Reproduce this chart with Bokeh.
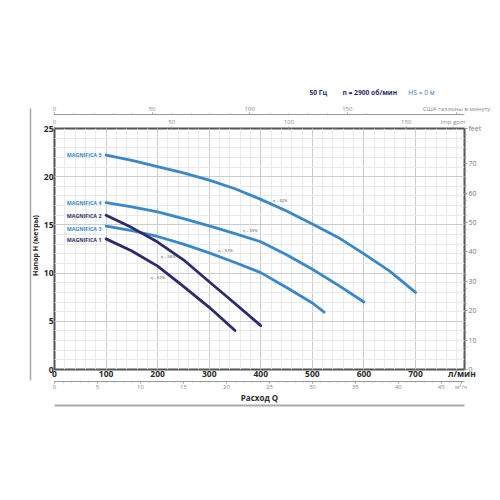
import math
from bokeh.plotting import figure
from bokeh.layouts import column, row
from bokeh.models import (Range1d, LinearAxis, SingleIntervalTicker, FixedTicker,
                          ColumnDataSource)
from bokeh.core.properties import value
from bokeh.embed import file_html
from bokeh.resources import INLINE

FONT = "Open Sans"
BLUE = "#3a87c9"
NAVY = "#2d2b6c"

# ---- data (flow in l/min, head in m) ----
q_m5 = [100, 150, 200, 250, 300, 350, 400, 450, 500, 550, 600, 650, 700]
h_m5 = [22.25, 21.7, 21.05, 20.4, 19.65, 18.75, 17.65, 16.45, 15.1, 13.7, 12.0, 10.2, 8.0]
q_m4 = [100, 150, 200, 250, 300, 350, 400, 450, 500, 550, 600]
h_m4 = [17.3, 16.88, 16.35, 15.65, 14.9, 14.1, 13.25, 11.9, 10.4, 8.75, 7.0]
q_m3 = [100, 150, 200, 250, 300, 350, 400, 450, 500, 523]
h_m3 = [14.88, 14.4, 13.8, 13.0, 12.1, 11.1, 10.05, 8.5, 6.9, 5.95]
q_m2 = [100, 150, 200, 250, 300, 350, 400]
h_m2 = [16.0, 14.72, 13.22, 11.38, 9.1, 6.85, 4.55]
q_m1 = [100, 150, 200, 250, 300, 350]
h_m1 = [13.55, 12.3, 10.72, 8.62, 6.45, 4.05]

model_names = ["MAGNIFICA 5", "MAGNIFICA 4", "MAGNIFICA 2", "MAGNIFICA 3", "MAGNIFICA 1"]
model_label_y = [22.2, 17.3, 15.9, 14.55, 13.45]
model_colors = [BLUE, BLUE, NAVY, BLUE, NAVY]

eff_text = ["η = 62%", "η = 59%", "η = 57%", "η = 58%", "η = 57%"]
eff_x = [423, 365, 317, 206, 186]
eff_y = [17.5, 14.4, 12.37, 11.68, 9.5]

header_text = ["50 Гц", "n = 2900 об/мин", "HS = 0 м"]
header_colors = [NAVY, NAVY, "#4a74b4"]
header_styles = ["bold", "bold", "normal"]
y_title = "Напор H (метры)"

lmin_ticks = [0, 100, 200, 300, 400, 500, 600, 700, 790]
lmin_labels = {790: "л/мин"}
m3h_ticks = [0, 5, 10, 15, 20, 25, 30, 35, 40, 45, 47.3]
m3h_minor = list(range(0, 47))
m3h_labels = {47.3: "м³/ч"}
us_ticks = [0, 50, 100, 150, 206]
us_labels = {206: "США галлоны в минуту"}
imp_ticks = [0, 50, 100, 150, 170]
imp_labels = {170: "Imp gpm"}
gpm_minor = list(range(0, 161, 10))
feet_ticks = [0, 10, 20, 30, 40, 50, 60, 70, 82]
feet_labels = {82: "feet"}
feet_minor = [v * 2.5 for v in range(0, 33)]

X_MAX = 795
Y_MAX = 25
HEAD_H = 100
STRIP_W = 40
W = 500 - STRIP_W

def blank(fig):
    fig.xaxis.visible = False
    fig.yaxis.visible = False
    fig.grid.visible = False
    fig.outline_line_color = None

# ---- left strip: decorative rule + y title (pixel coordinates, y up) ----
strip = figure(width=STRIP_W, height=500, x_range=Range1d(0, STRIP_W), y_range=Range1d(0, 500),
               output_backend="svg", toolbar_location=None, min_border=0)
blank(strip)
strip.segment(x0=[30], y0=[500 - 108], x1=[30], y1=[500 - 380],
              line_color="#aaaaaa", line_width=1.5)
strip.text(x=[35.3], y=[500 - 245], text=[y_title], angle=math.pi / 2,
           text_font=value(FONT), text_font_style="bold", text_font_size="7px",
           text_color="#2a2a2a", text_align="center", text_baseline="middle")

# ---- header strip (pixel coordinates, y down) ----
hdr = figure(width=W, height=HEAD_H, x_range=Range1d(STRIP_W, 500), y_range=Range1d(HEAD_H, 0),
             output_backend="svg", toolbar_location=None, min_border=0)
blank(hdr)
hsrc = ColumnDataSource(dict(x=[326, 363, 437], y=[92, 92, 92], t=header_text,
                             c=header_colors, s=header_styles))
hdr.text(x="x", y="y", text="t", source=hsrc, text_color="c", text_font_style="s",
         text_font=value(FONT), text_font_size="6.7px", text_baseline="middle")

# ---- main chart ----
p = figure(width=W, height=500 - HEAD_H, x_range=Range1d(0, X_MAX), y_range=Range1d(0, Y_MAX),
           output_backend="svg", toolbar_location=None,
           min_border_left=54 - STRIP_W, min_border_right=36, min_border_top=128 - HEAD_H,
           min_border_bottom=131)
p.background_fill_color = "white"
p.border_fill_color = "white"
p.outline_line_color = "#555555"
p.outline_line_width = 2

xa = p.xaxis[0]
xa.ticker = FixedTicker(ticks=lmin_ticks, minor_ticks=list(range(0, 781, 20)))
xa.major_label_overrides = lmin_labels
xa.axis_line_color = None
xa.major_tick_line_color = None
xa.minor_tick_line_color = None
xa.major_tick_out = 0
xa.minor_tick_out = 0
xa.major_label_text_font = FONT
xa.major_label_text_font_style = "bold"
xa.major_label_text_font_size = "8.5px"
xa.major_label_text_color = "#2a2a2a"
xa.major_label_standoff = -2

ya = p.yaxis[0]
ya.ticker = SingleIntervalTicker(interval=5, num_minor_ticks=5)
ya.axis_line_color = None
ya.major_tick_line_color = None
ya.minor_tick_line_color = None
ya.major_tick_out = 0
ya.minor_tick_out = 0
ya.major_label_text_font = FONT
ya.major_label_text_font_style = "bold"
ya.major_label_text_font_size = "8.5px"
ya.major_label_text_color = "#2a2a2a"
ya.major_label_standoff = 1

p.xgrid.grid_line_color = "#cccccc"
p.xgrid.minor_grid_line_color = "#e9e9e9"
p.ygrid.grid_line_color = "#cccccc"
p.ygrid.minor_grid_line_color = "#e9e9e9"
p.xgrid.ticker = SingleIntervalTicker(interval=100, num_minor_ticks=5)

p.extra_x_ranges = {
    "m3h": Range1d(0, X_MAX * 0.06),
    "usgpm": Range1d(0, X_MAX / 3.785),
    "impgpm": Range1d(0, X_MAX / 4.546),
}
p.extra_y_ranges = {"feet": Range1d(0, Y_MAX * 3.28084)}

def small_axis(ax, color="#888888", size="6px"):
    ax.major_label_text_font = FONT
    ax.major_label_text_font_size = size
    ax.major_label_text_color = color
    ax.axis_line_color = "#999999"
    ax.major_tick_line_color = "#999999"
    ax.minor_tick_line_color = "#999999"
    ax.major_tick_in = 0
    ax.minor_tick_in = 0

m3 = LinearAxis(x_range_name="m3h", ticker=FixedTicker(ticks=m3h_ticks, minor_ticks=m3h_minor))
small_axis(m3)
m3.major_label_overrides = m3h_labels
m3.major_tick_out = 2
m3.minor_tick_out = 1
m3.major_label_standoff = -1
m3.axis_label = "Расход Q"
m3.axis_label_text_font = FONT
m3.axis_label_text_font_style = "bold"
m3.axis_label_text_font_size = "8px"
m3.axis_label_text_color = "#2a2a2a"
m3.axis_label_standoff = -2
p.add_layout(m3, "below")

rule_b = LinearAxis(ticker=FixedTicker(ticks=[]))
rule_b.axis_line_color = "#aaaaaa"
rule_b.axis_line_width = 2
rule_b.major_label_text_font_size = "0px"
p.add_layout(rule_b, "below")

ft = LinearAxis(y_range_name="feet", ticker=FixedTicker(ticks=feet_ticks, minor_ticks=feet_minor))
small_axis(ft, color="#777777", size="7px")
ft.major_label_overrides = feet_labels
ft.axis_line_color = None
ft.major_tick_out = 3
ft.minor_tick_out = 2
ft.major_label_standoff = 1
p.add_layout(ft, "right")

imp = LinearAxis(x_range_name="impgpm", ticker=FixedTicker(ticks=imp_ticks, minor_ticks=gpm_minor))
small_axis(imp)
imp.major_label_overrides = imp_labels
imp.axis_line_color = None
imp.major_tick_out = 2
imp.minor_tick_out = 1
imp.major_label_standoff = 1
p.add_layout(imp, "above")

us = LinearAxis(x_range_name="usgpm", ticker=FixedTicker(ticks=us_ticks, minor_ticks=gpm_minor))
small_axis(us)
us.major_label_overrides = us_labels
us.major_tick_out = 2
us.minor_tick_out = 1
us.major_label_standoff = 0
p.add_layout(us, "above")

for q, h, c in [(q_m5, h_m5, BLUE), (q_m4, h_m4, BLUE), (q_m3, h_m3, BLUE),
                (q_m2, h_m2, NAVY), (q_m1, h_m1, NAVY)]:
    p.line(q, h, line_color=c, line_width=2.8, line_cap="round")

src_names = ColumnDataSource(dict(x=[91] * len(model_names), y=model_label_y,
                                  t=model_names, c=model_colors))
p.text(x="x", y="y", text="t", source=src_names, text_color="c",
       text_font=value(FONT), text_font_size="5.3px", text_font_style="bold",
       text_align="right", text_baseline="middle")

src_eff = ColumnDataSource(dict(x=eff_x, y=eff_y, t=eff_text))
p.text(x="x", y="y", text="t", source=src_eff, text_color="#444444",
       text_font=value(FONT), text_font_size="4px",
       text_align="left", text_baseline="middle")

layout = row(strip, column(hdr, p, spacing=0), spacing=0)
open("out.html", "w").write(file_html(layout, INLINE))
